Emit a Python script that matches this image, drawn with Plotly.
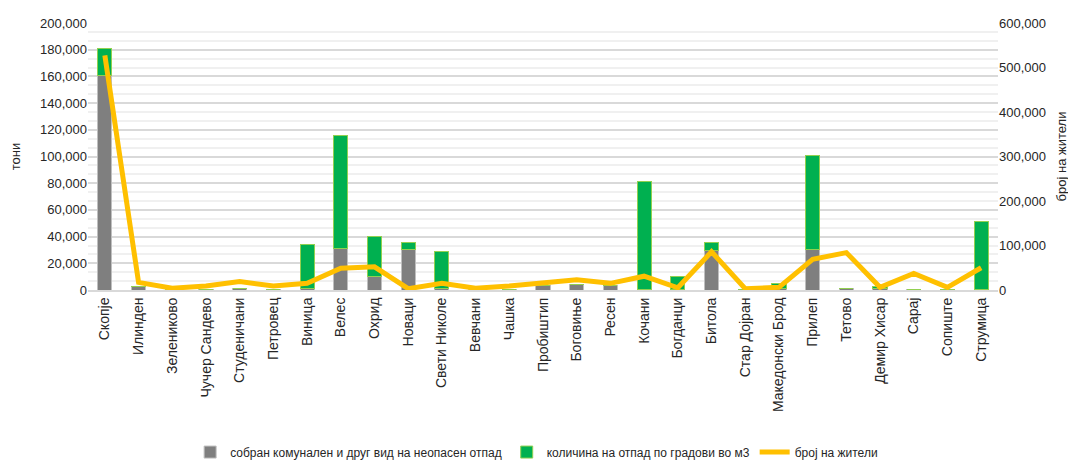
"""Waste and population by municipality."""
import plotly.graph_objects as go

cities = [
    'Скопје', 'Илинден', 'Зелениково', 'Чучер Сандево', 'Студеничани', 'Петровец',
    'Виница', 'Велес', 'Охрид', 'Новаци', 'Свети Николе', 'Вевчани', 'Чашка',
    'Пробиштип', 'Боговиње', 'Ресен', 'Кочани', 'Богданци', 'Битола', 'Стар Дојран',
    'Македонски Брод', 'Прилеп', 'Тетово', 'Демир Хисар', 'Сарај', 'Сопиште', 'Струмица'
]
collected = [
    161000, 2500, 300, 500, 1200, 400,
    800, 31000, 10000, 30000, 1000, 200, 300,
    3500, 4000, 3500, 500, 300, 29500, 200,
    1000, 30500, 1200, 1000, 300, 300, 300
]
volume = [
    20000, 0, 0, 0, 0, 0,
    33000, 85000, 30000, 5500, 27500, 0, 0,
    0, 0, 0, 81000, 9500, 6000, 0,
    3500, 70000, 0, 1500, 0, 0, 51000
]
residents = [
    527000, 17000, 4000, 9000, 19000, 9000,
    15000, 49000, 52000, 3000, 15000, 4000, 9000,
    15000, 23000, 15000, 31000, 5000, 86000, 3000,
    6000, 69000, 84000, 6000, 37000, 6000, 50000
]

names = ['собран комунален и друг вид на неопасен отпад',
         'количина на отпад по градови во м3',
         'број на жители']

font = 'Liberation Sans'
text_col = '#262626'

fig = go.Figure()
fig.add_trace(go.Bar(
    x=cities, y=collected, name=names[0],
    marker={'color': '#7f7f7f', 'line': {'color': '#bfbfbf', 'width': 1}}
))
fig.add_trace(go.Bar(
    x=cities, y=volume, name=names[1],
    marker={'color': '#00b050', 'line': {'color': '#92d050', 'width': 1}}
))
fig.add_trace(go.Scatter(
    x=cities, y=residents, name=names[2], yaxis='y2',
    mode='lines', line={'color': '#ffc000', 'width': 5}
))

# the page adds an 8px body margin, so the margins are shifted by that much
fig.update_layout(
    width=1076, height=461,
    margin={'l': 80, 'r': 86, 't': 15, 'b': 179, 'autoexpand': False},
    paper_bgcolor='white', plot_bgcolor='white',
    barmode='stack', bargap=0.58,
    font={'family': font, 'size': 12, 'color': text_col},
    showlegend=True,
    legend={
        'orientation': 'h', 'x': 0.493, 'xanchor': 'center', 'y': -0.607, 'yanchor': 'middle',
        'font': {'size': 12, 'color': text_col}, 'traceorder': 'normal'
    },
    xaxis={
        'tickangle': -90, 'showgrid': False, 'showline': True, 'linecolor': '#d9d9d9',
        'linewidth': 2, 'ticks': '', 'tickfont': {'size': 14, 'color': text_col},
        'automargin': False
    },
    yaxis={
        'range': [0, 200000], 'dtick': 20000, 'tickformat': ',', 'showgrid': True,
        'gridcolor': '#d9d9d9', 'gridwidth': 1.5, 'zeroline': False, 'automargin': False,
        'minor': {'dtick': 20000 / 3, 'showgrid': True, 'gridcolor': '#f0f0f0', 'gridwidth': 1.5},
        'title': {'text': 'тони', 'font': {'size': 13, 'color': text_col}, 'standoff': 20},
        'tickfont': {'size': 13, 'color': text_col}
    },
    yaxis2={
        'range': [0, 600000], 'dtick': 100000, 'tickformat': ',', 'overlaying': 'y',
        'side': 'right', 'showgrid': False, 'zeroline': False, 'automargin': False,
        'title': {'text': 'број на жители', 'font': {'size': 13, 'color': text_col}, 'standoff': 11},
        'tickfont': {'size': 13, 'color': text_col}
    }
)

fig.write_html("out.html")
